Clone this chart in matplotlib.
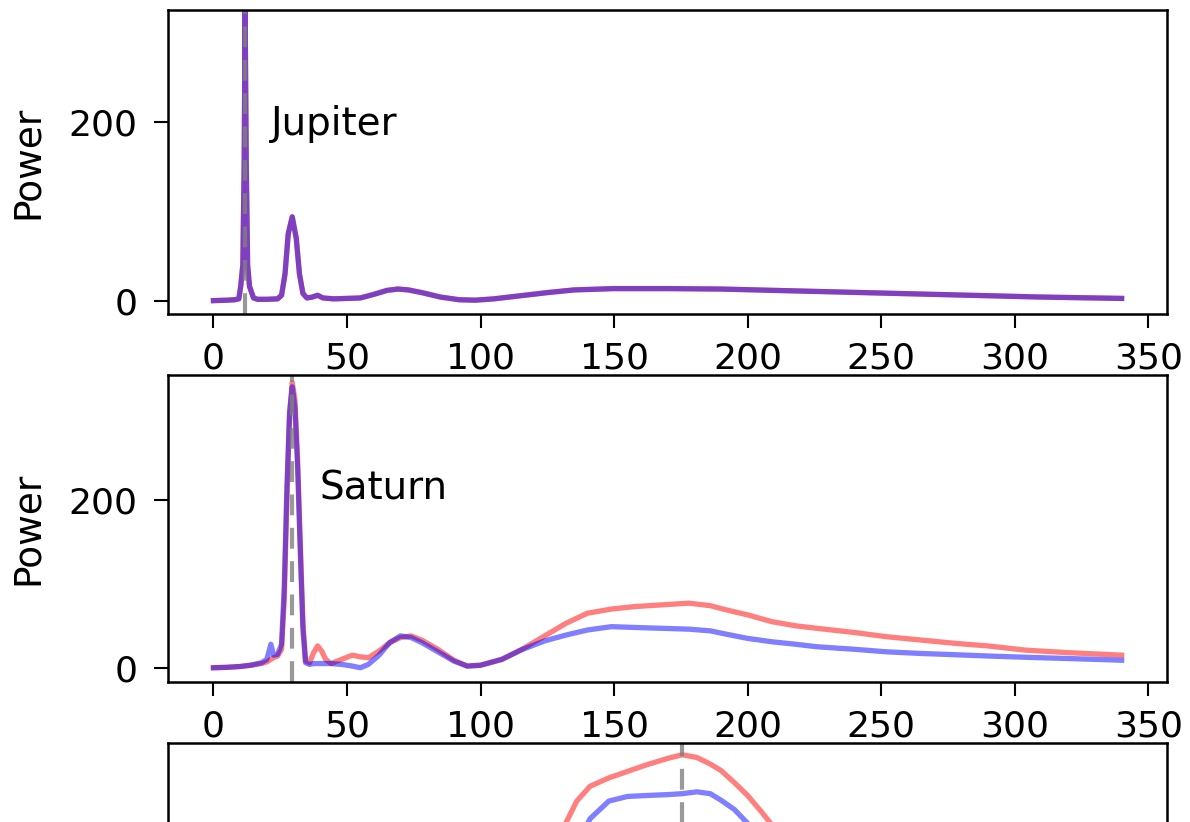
import matplotlib
matplotlib.use("Agg")
import matplotlib.pyplot as plt
from matplotlib.ticker import MultipleLocator

# Jupiter panel (red and blue runs overlap completely)
jup_period = [0, 5, 8, 9.5, 10.2, 11.0, 11.5, 11.86, 12.3, 12.8, 13.5, 15, 16.5,
              20, 24, 25.5, 26.8, 28, 29.5, 31, 32.2, 33.5, 35, 37, 39, 41, 45,
              50, 55, 60, 65, 69, 73, 78, 85, 92, 98, 105, 115, 125, 135, 150,
              170, 190, 210, 230, 250, 270, 290, 310, 330, 340]
jup_power = [0, 0.5, 1, 2, 16, 40, 150, 325, 150, 40, 16, 3, 1.5,
             1.5, 2, 6, 30, 75, 94, 70, 30, 8, 3, 4, 6, 3, 2,
             2.5, 3, 7, 11.5, 13, 12, 9, 4, 1, 0.5, 2, 5.5, 9, 12, 13.5,
             13.5, 13, 11.5, 10, 8.5, 7, 5.5, 4, 3, 2.5]

# Saturn panel
sat_period = [0, 5, 10, 14, 18, 20, 21.5, 22.5, 24, 25.5, 26.5, 27.5, 28.5,
              29.5, 30.5, 31.5, 32.5, 33.5, 34.5, 36, 37.5, 39, 40.5, 42, 44,
              48, 52, 55, 58, 62, 66, 70, 74, 78, 84, 90, 95, 100, 108, 115,
              124, 132, 140, 149, 158, 168, 178, 186, 192, 200, 209, 218, 226,
              240, 252, 265, 278, 290, 304, 320, 340]
sat_red = [0, 0.5, 1.5, 3, 5, 7, 10, 12, 14, 22, 80, 200, 300,
           340, 320, 250, 150, 55, 8, 6, 18, 26, 20, 10, 5,
           10, 15, 13, 12, 20, 30, 36, 38, 33, 22, 9, 2, 3, 10, 21,
           38, 53, 65, 70, 73, 75, 77, 74, 69, 63, 55, 50, 47,
           42, 37, 33, 29, 26, 21, 18, 15]
sat_blue = [0, 0.5, 1.5, 3, 6, 10, 28, 15, 16, 28, 95, 215, 305,
            335, 310, 240, 140, 45, 6, 4, 5, 5, 5, 5, 5,
            4, 2, 0, 4, 15, 30, 38, 36, 30, 19, 8, 2, 3, 10, 21,
            32, 39, 45, 49, 48, 47, 46, 44, 40, 35, 31, 28, 25,
            22, 19, 17, 15.5, 14, 12.5, 11, 9]

# third panel (only its top is visible)
p3_period = [0, 20, 40, 60, 80, 100, 115, 125, 131, 136, 141, 148, 155, 162,
             170, 175.5, 181, 186, 190, 195, 200, 205, 210, 220, 235, 260,
             290, 340]
p3_red = [2, 5, 10, 15, 25, 60, 130, 190, 223, 252, 268, 277, 284, 291,
          298, 302, 299, 292, 285, 272, 258, 241, 223, 180, 120, 70, 40, 20]
p3_blue = [2, 4, 8, 12, 20, 45, 100, 150, 180, 205, 233, 252, 257, 258,
           259, 260, 262, 260, 253, 243, 228, 205, 180, 135, 90, 55, 32, 15]

true_periods = [11.86, 29.5, 175.5]

fig = plt.figure(figsize=(11.9, 8.22), dpi=100)
ax1 = fig.add_axes([0.1412, 0.6180, 0.8395, 0.3698])
ax2 = fig.add_axes([0.1412, 0.1703, 0.8395, 0.3735])
ax3 = fig.add_axes([0.1412, -0.2758, 0.8395, 0.3723])

lw = 3.8
ax1.plot(jup_period, jup_power, color='r', alpha=0.5, lw=lw)
ax1.plot(jup_period, jup_power, color='b', alpha=0.5, lw=lw)
ax2.plot(sat_period, sat_red, color='r', alpha=0.5, lw=lw)
ax2.plot(sat_period, sat_blue, color='b', alpha=0.5, lw=lw)
ax3.plot(p3_period, p3_red, color='r', alpha=0.5, lw=lw)
ax3.plot(p3_period, p3_blue, color='b', alpha=0.5, lw=lw)

ax1.set_ylim(-15, 326)
ax2.set_ylim(-17, 349)
ax3.set_ylim(-15, 315)

for ax, p in zip([ax1, ax2, ax3], true_periods):
    ax.axvline(p, color='gray', alpha=0.8, lw=3, linestyle=(0, (5, 3)))
    ax.set_xlim(-17, 357)
    ax.yaxis.set_major_locator(MultipleLocator(200))
    ax.xaxis.set_major_locator(MultipleLocator(50))
    ax.tick_params(labelsize=26, length=10, width=1.5)
    ax.tick_params(axis='x', pad=10)
    ax.tick_params(axis='y', pad=12)
    for s in ax.spines.values():
        s.set_linewidth(1.8)

ax1.set_ylabel("Power", fontsize=27, labelpad=16)
ax2.set_ylabel("Power", fontsize=27, labelpad=16)
# the third panel is cut off by the figure edge; its labels lie outside
ax3.tick_params(labelbottom=False, labelleft=False)

ax1.text(21.7, 186, "Jupiter", fontsize=28)
ax2.text(39.7, 200, "Saturn", fontsize=28)

fig.savefig("out.png", dpi=100)
